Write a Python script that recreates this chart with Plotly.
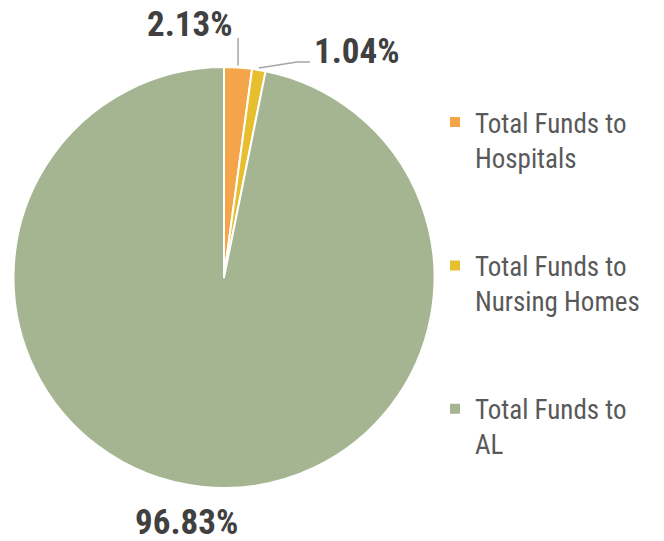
import math
import plotly.graph_objects as go

# data
labels = ["Total Funds to Hospitals", "Total Funds to Nursing Homes", "Total Funds to AL"]
legend_text = ["Total Funds to<br>Hospitals<br> <br> ", "Total Funds to<br>Nursing Homes<br> <br> ", "Total Funds to<br>AL"]
values = [2.13, 1.04, 96.83]
colors = ["#F4A54A", "#E6BE2E", "#A5B592"]

W, H = 664, 541
OFF = 8  # the page body has an 8px margin, so screen px = figure px + 8
FONT = "Roboto Condensed, Liberation Sans Narrow, Arial Narrow, sans-serif"
# pie box in screen pixels
left, right, top, bottom = 13, 435, 67, 488
cx, cy = (left + right) / 2, (top + bottom) / 2
r = min(right - left, bottom - top) / 2


def px(x, y):
    return (x - OFF) / W, 1 - (y - OFF) / H


fig = go.Figure(go.Pie(
    labels=legend_text,
    values=values,
    marker=dict(colors=colors, line=dict(color="white", width=2)),
    sort=False,
    direction="clockwise",
    rotation=0,
    textinfo="none",
    hoverinfo="none",
    domain=dict(x=[px(left, 0)[0], px(right, 0)[0]], y=[px(0, bottom)[1], px(0, top)[1]]),
))


def edge(i):
    total = sum(values)
    start = sum(values[:i])
    mid = (start + values[i] / 2) / total * 2 * math.pi
    return cx + r * math.sin(mid), cy - r * math.cos(mid)


font_lbl = dict(family=FONT, size=35, color="#404040", weight="bold")
txt = [f"{v:.2f}%" for v in values]

# 2.13% label with vertical leader line
ex, ey = edge(0)
fig.add_shape(type="line", xref="paper", yref="paper",
              x0=px(ex, ey - 2)[0], y0=px(ex, ey - 2)[1], x1=px(ex, 38)[0], y1=px(ex, 38)[1],
              line=dict(color="#A6A6A6", width=1.5))
fig.add_annotation(x=px(ex - 3, 25)[0], y=px(ex - 3, 25)[1], xref="paper", yref="paper",
                   text=txt[0], showarrow=False, xanchor="right", yanchor="middle", font=font_lbl)

# 1.04% label with elbow leader line
ex, ey = edge(1)
fig.add_shape(type="path", xref="paper", yref="paper",
              path="M {} {} L {} {} L {} {}".format(
                  *px(ex, ey - 2), *px(297, 62), *px(310, 62)),
              line=dict(color="#A6A6A6", width=1.5))
fig.add_annotation(x=px(312, 51)[0], y=px(312, 51)[1], xref="paper", yref="paper",
                   text=txt[1], showarrow=False, xanchor="left", yanchor="middle", font=font_lbl)

# 96.83% label below the pie
ex, ey = edge(2)
fig.add_annotation(x=px(ex - 17, 522)[0], y=px(ex - 17, 522)[1], xref="paper", yref="paper",
                   text=txt[2], showarrow=False, xanchor="center", yanchor="middle", font=font_lbl)

lx, ly = px(435, 98)
fig.update_layout(
    width=W, height=H,
    margin=dict(l=0, r=0, t=0, b=0),
    paper_bgcolor="white",
    plot_bgcolor="white",
    showlegend=True,
    legend=dict(
        x=lx, y=ly, xanchor="left", yanchor="top",
        valign="top",
        font=dict(family=FONT, size=27, color="#595959"),
        bgcolor="rgba(0,0,0,0)",
    ),
)

fig.write_html("out.html")
